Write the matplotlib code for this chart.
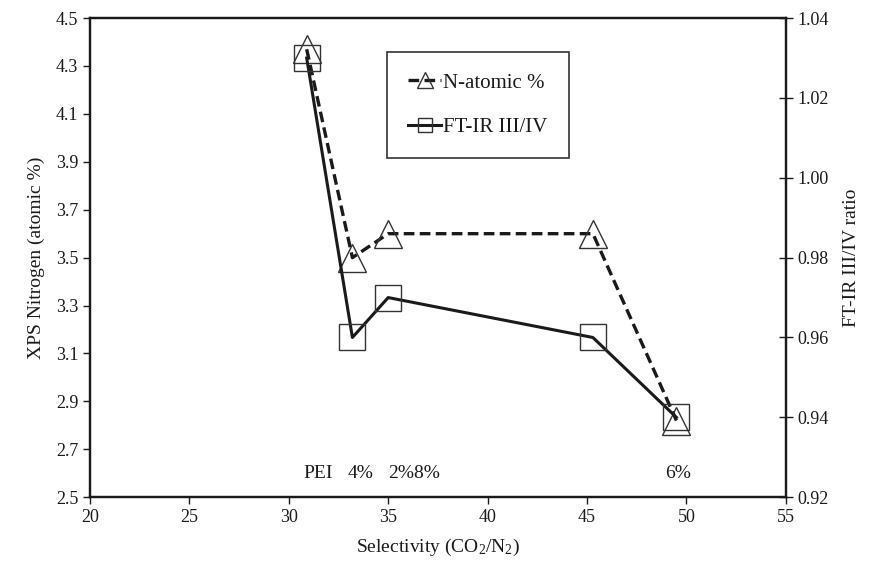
import matplotlib
matplotlib.use("Agg")
import matplotlib.pyplot as plt

plt.rcParams['font.family'] = ['Liberation Serif', 'DejaVu Serif']
plt.rcParams['mathtext.fontset'] = 'custom'
plt.rcParams['mathtext.rm'] = 'Liberation Serif'
plt.rcParams['mathtext.it'] = 'Liberation Serif:italic'

# datos
selectivity = [30.9, 33.2, 35.0, 45.3, 49.5]
n_atomic = [4.37, 3.50, 3.60, 3.60, 2.82]
ftir_ratio = [1.030, 0.960, 0.970, 0.960, 0.940]

sample_labels = ['PEI', '4%', '2%8%', '6%']
sample_label_x = [31.5, 33.6, 36.3, 49.6]

left_ticks = [2.5, 2.7, 2.9, 3.1, 3.3, 3.5, 3.7, 3.9, 4.1, 4.3, 4.5]
right_ticks = [0.92, 0.94, 0.96, 0.98, 1.00, 1.02, 1.04]
x_ticks = [20, 25, 30, 35, 40, 45, 50, 55]

ink = '#1a1a1a'

fig, ax1 = plt.subplots(figsize=(8.74, 5.65), dpi=100)
fig.subplots_adjust(left=0.103, right=0.899, top=0.968, bottom=0.12)
ax2 = ax1.twinx()

# serie de nitrogeno (eje izquierdo)
l1, = ax1.plot(selectivity, n_atomic, color=ink, linewidth=2.4,
               linestyle=(0, (3.2, 1.6)), marker='^', markersize=20,
               markerfacecolor='none', markeredgecolor='#333333',
               markeredgewidth=1.0, label='N-atomic %')

# serie FT-IR (eje derecho)
l2, = ax2.plot(selectivity, ftir_ratio, color=ink, linewidth=2.2,
               marker='s', markersize=19, markerfacecolor='none',
               markeredgecolor='#333333', markeredgewidth=1.0,
               label='FT-IR III/IV')

ax1.set_xlim(20, 55)
ax1.set_ylim(2.5, 4.5)
ax2.set_ylim(0.92, 1.04)

ax1.set_xticks(x_ticks)
ax1.set_yticks(left_ticks)
ax1.set_yticklabels([f'{v:.1f}' for v in left_ticks])
ax2.set_yticks(right_ticks)
ax2.set_yticklabels([f'{v:.2f}' for v in right_ticks])

ax1.tick_params(axis='both', labelsize=13, colors=ink, direction='out',
                length=5, width=1.0)
ax2.tick_params(axis='y', labelsize=13, colors=ink, direction='inout',
                length=10, width=1.0)

for ax in (ax1, ax2):
    for sp in ax.spines.values():
        sp.set_linewidth(1.6)
        sp.set_color(ink)

ax1.set_xlabel('Selectivity (CO$_\\mathrm{2}$/N$_\\mathrm{2}$)', fontsize=14,
               color=ink, labelpad=8)
ax1.set_ylabel('XPS Nitrogen (atomic %)', fontsize=14, color=ink, labelpad=8)
ax2.set_ylabel('FT-IR III/IV ratio', fontsize=14, color=ink, labelpad=10)

# etiquetas de las muestras
for txt, xv in zip(sample_labels, sample_label_x):
    ax1.text(xv, 2.6, txt, ha='center', va='center', fontsize=14, color=ink)

leg = ax2.legend(handles=[l1, l2], loc='upper left',
                 bbox_to_anchor=(0.427, 0.929), fontsize=15, markerscale=0.55,
                 handlelength=1.6, handletextpad=0.1, borderpad=1.0,
                 labelspacing=1.2, fancybox=False, framealpha=1,
                 edgecolor='#333333', borderaxespad=0)
leg.get_frame().set_linewidth(1.2)
for t in leg.get_texts():
    t.set_color(ink)

fig.savefig('out.png', dpi=100)
